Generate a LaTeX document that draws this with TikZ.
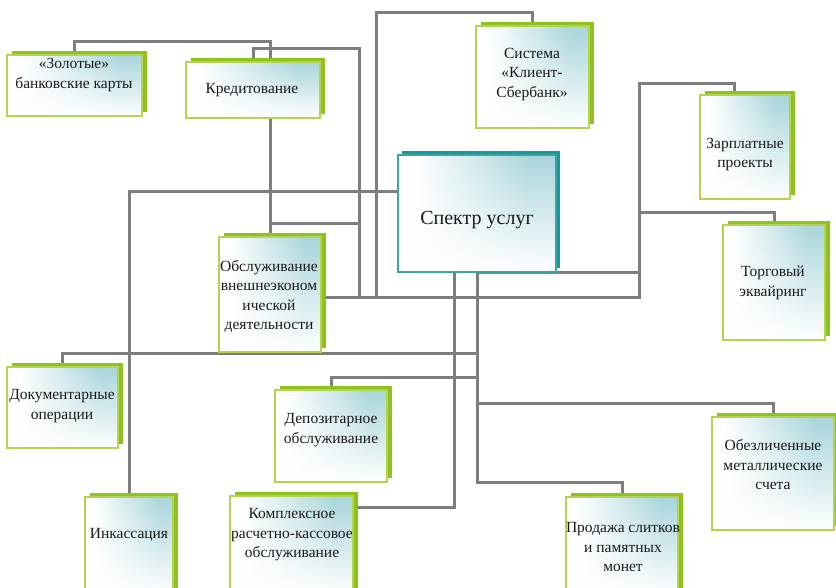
\documentclass[tikz,border=0pt]{standalone}
\usepackage{fontspec}
\setmainfont{Liberation Serif}
\usetikzlibrary{shadows,backgrounds,fadings}
\definecolor{lnk}{HTML}{7E7E7E}
\definecolor{grnS}{HTML}{8DC21F}
\definecolor{grnB}{HTML}{B4D44E}
\definecolor{tealS}{HTML}{139A9A}
\definecolor{tealB}{HTML}{3AA3A3}
\definecolor{shd}{HTML}{A8D5DB}
\definecolor{txt}{HTML}{1A1A1A}
\pgfdeclarehorizontalshading{glowh}{100bp}{color(0bp)=(white); color(30bp)=(white); color(67bp)=(shd); color(72bp)=(shd); color(100bp)=(shd)}
\tikzfading[name=botwhite, top color=transparent!100, middle color=transparent!72, bottom color=transparent!0]
\begin{document}
\begin{tikzpicture}[x=1pt,y=-1pt,
  link/.style={draw=lnk, line width=3pt},
  glow/.style={shading=glowh, path picture={
     \fill[white, path fading=botwhite]
       (path picture bounding box.south west) rectangle (path picture bounding box.north east);}},
  box/.style={rectangle, draw=grnB, line width=1.2pt, inner sep=0pt, glow,
    general shadow={fill=grnS, shadow xshift=4.5pt, shadow yshift=4.5pt}},
  cbox/.style={rectangle, draw=tealB, line width=1.2pt, inner sep=0pt, glow,
    general shadow={fill=tealS, shadow xshift=4pt, shadow yshift=4pt}},
  lbl/.style={align=center, text=txt, inner sep=0pt, font=\fontsize{15.5}{19.5}\selectfont},
]
\useasboundingbox (0,0) rectangle (836,587);

% boxes
\node[box, minimum width=135pt, minimum height=61pt]  (zol)    at (74.5,85.5) {};
\node[box, minimum width=134pt, minimum height=56pt]  (kred)   at (253,90) {};
\node[box, minimum width=113pt, minimum height=102pt] (sys)    at (532.5,77) {};
\node[cbox, minimum width=158pt, minimum height=117pt] (spektr) at (477,213.5) {};
\node[box, minimum width=90pt,  minimum height=104pt] (zarp)   at (745,147) {};
\node[box, minimum width=102pt, minimum height=115pt] (torg)   at (774,282.5) {};
\node[box, minimum width=102pt, minimum height=115pt] (obsl)   at (270,294.5) {};
\node[box, minimum width=111pt, minimum height=81pt]  (dok)    at (62.5,407.5) {};
\node[box, minimum width=112pt, minimum height=92pt]  (dep)    at (331,436) {};
\node[box, minimum width=88pt,  minimum height=98pt]  (ink)    at (129,546) {};
\node[box, minimum width=123pt, minimum height=99pt]  (kompl)  at (291.5,545.5) {};
\node[box, minimum width=112pt, minimum height=98pt]  (prod)   at (622,546) {};
\node[box, minimum width=122pt, minimum height=113pt] (obez)   at (773,473.5) {};

% texts
\node[lbl] (zol-t)   at (74,75)     {«Золотые»\\банковские карты};
\node[lbl] (kred-t)  at (252,90)    {Кредитование};
\node[lbl] (sys-t)   at (532,74.5)  {Система\\«Клиент-\\Сбербанк»};
\node[lbl, font=\fontsize{20}{24}\selectfont] (spektr-t) at (477,220) {Спектр услуг};
\node[lbl] (zarp-t)  at (745,154.5) {Зарплатные\\проекты};
\node[lbl] (torg-t)  at (773,283)   {Торговый\\эквайринг};
\node[lbl] (obsl-t)  at (269,296.5) {Обслуживание\\внешнеэконом\\ической\\деятельности};
\node[lbl] (dok-t)   at (62,406)    {Документарные\\операции};
\node[lbl] (dep-t)   at (331,430)   {Депозитарное\\обслуживание};
\node[lbl] (ink-t)   at (129,535)   {Инкассация};
\node[lbl] (kompl-t) at (292,535)   {Комплексное\\расчетно-кассовое\\обслуживание};
\node[lbl] (prod-t)  at (623,547)   {Продажа слитков\\и памятных\\монет};
\node[lbl] (obez-t)  at (773,465)   {Обезличенные\\металлические\\счета};

% connectors
\begin{scope}[on background layer]
\fill[white] (0,0) rectangle (836,587);
\draw[link] (zol.center) |- (obsl.center |- 0,41) -- (obsl.center);
\draw[link] (kred.center) |- (359,48) -- (359,297);
\draw[link] (sys.center) |- (376,12) -- (376,297);
\draw[link] (obsl.center |- 0,223) -- (359,223);
\draw[link] (obsl.center |- 0,297) -- (639,297) -- (639,83) -- (734,83) -- (734,0 |- zarp.center);
\draw[link] (639,212) -| (torg.center);
\draw[link] (spektr.center |- 0,272) -- (639,272);
\draw[link] (spektr.center |- 0,191) -| (ink.center);
\draw[link] (454,0 |- spektr.center) -- (454,507) -- (kompl.center |- 0,507);
\draw[link] (spektr.center) -- (spektr.center |- 0,482) -| (prod.center);
\draw[link] (spektr.center |- 0,403) -| (obez.center);
\draw[link] (dok.center) |- (spektr.center |- 0,353);
\draw[link] (dep.center) |- (spektr.center |- 0,377);
\end{scope}
\end{tikzpicture}
\end{document}
